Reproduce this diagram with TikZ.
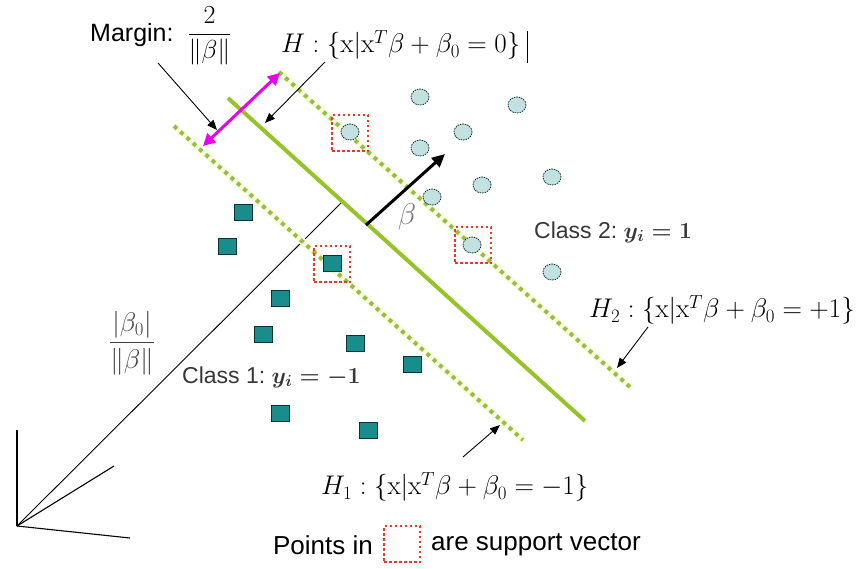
\RequirePackage{fix-cm}
\documentclass[tikz,border=0pt]{standalone}
\usepackage{amsmath}
\usepackage[no-math]{fontspec}
\setmainfont{Liberation Sans}
\usetikzlibrary{arrows.meta,shapes.geometric}
\definecolor{lg}{RGB}{150,195,40}
\definecolor{dotg}{RGB}{150,190,70}
\definecolor{paley}{RGB}{250,251,222}
\definecolor{sqf}{RGB}{25,140,140}
\definecolor{sqd}{RGB}{10,50,50}
\definecolor{cf}{RGB}{195,225,225}
\definecolor{svr}{RGB}{225,60,40}
\definecolor{mag}{RGB}{235,0,235}
\definecolor{txg}{RGB}{55,55,55}
\begin{document}
\begin{tikzpicture}[x=1pt,y=-1pt,
  margline/.style={preaction={draw=paley,line width=7pt},draw=dotg,line width=4pt,dash pattern=on 4pt off 4.5pt},
  hyper/.style={draw=lg,line width=4pt},
  sq/.style={draw=sqd,fill=sqf,line width=0.8pt,minimum width=18pt,minimum height=16pt,inner sep=0pt},
  circ/.style={ellipse,draw=sqd,dashed,dash pattern=on 1.5pt off 1pt,fill=cf,line width=0.8pt,minimum width=18pt,minimum height=16pt,inner sep=0pt},
  svbox/.style={draw=svr,line width=2.5pt,dash pattern=on 2.5pt off 2.5pt,minimum width=36pt,minimum height=36pt,inner sep=0pt},
  ptr/.style={draw=black,line width=0.9pt,-{Triangle[length=10pt,width=8pt]}},
  lab/.style={inner sep=0pt,font=\fontsize{27}{30}\selectfont},
  cls/.style={inner sep=0pt,text=txg,font=\fontsize{23}{26}\selectfont},
  axis/.style={draw=black,line width=1.1pt}]
\fill[white] (0,0) rectangle (861,568);
\useasboundingbox (0,0) rectangle (861,568);

% origin and axes
\coordinate (o) at (17,526);
\coordinate (ax1) at (17,430);
\coordinate (ax2) at (130,538);
\coordinate (ax3) at (114,466);
\coordinate (foot) at (342,202);
\draw[axis] (o) -- (ax1);
\draw[axis] (o) -- (ax2);
\draw[axis] (o) -- (ax3);
\draw[draw=black,line width=0.9pt] (o) -- (foot);

% hyperplanes
\coordinate (h2a) at (279,72); \coordinate (h2b) at (630,387);
\coordinate (ha) at (228,98); \coordinate (hb) at (585,421);
\coordinate (h1a) at (174,126); \coordinate (h1b) at (523,440);
\draw[margline] (h2a) -- (h2b);
\draw[margline] (h1a) -- (h1b);
\draw[hyper] (ha) -- (hb);

% beta arrow
\coordinate (bs) at (366,225);
\coordinate (be) at (445,154);
\draw[line width=3pt,-{Triangle[length=13pt,width=12pt]}] (bs) -- (be);
\node[lab,text=black!55,font=\fontsize{30}{32}\selectfont] (blab) at (407,217) {$\beta$};

% margin arrow
\coordinate (m1) at (203,146);
\coordinate (m2) at (280,73);
\draw[draw=mag,line width=3pt,{Triangle[length=12pt,width=12pt]}-{Triangle[length=12pt,width=12pt]}] (m1) -- (m2);

% class 1 squares
\node[sq] (s1) at (243,212) {};
\node[sq] (s2) at (227,246) {};
\node[sq] (s3) at (332,263) {};
\node[sq] (s4) at (280,298) {};
\node[sq] (s5) at (263,334) {};
\node[sq] (s6) at (355,343) {};
\node[sq] (s7) at (412,364) {};
\node[sq] (s8) at (280,413) {};
\node[sq] (s9) at (368,430) {};

% class 2 circles
\node[circ] (c1) at (420,97) {};
\node[circ] (c2) at (517,105) {};
\node[circ] (c3) at (350,132) {};
\node[circ] (c4) at (463,132) {};
\node[circ] (c5) at (420,148) {};
\node[circ] (c6) at (552,177) {};
\node[circ] (c7) at (482,185) {};
\node[circ] (c8) at (432,197) {};
\node[circ] (c9) at (472,245) {};
\node[circ] (c10) at (552,272) {};

% support vector boxes
\node[svbox] (sv1) at (350,133) {};
\node[svbox] (sv2) at (332,264) {};
\node[svbox] (sv3) at (473,245) {};

% labels
\node[lab,anchor=west,font=\fontsize{25}{28}\selectfont] (marg) at (90,36) {Margin:\ \ {\fontsize{26}{29}\selectfont$\dfrac{2}{\|\beta\|}$}};
\node[lab,anchor=west] (hlab) at (281,45) {$H:\{\mathrm{x}|\mathrm{x}^T\beta+\beta_0=0\}$};
\coordinate (bar1) at (527,31); \coordinate (bar2) at (527,63);
\draw[line width=1pt] (bar1) -- (bar2);
\node[lab,anchor=west] (h2lab) at (589,310) {$H_2:\{\mathrm{x}|\mathrm{x}^T\beta+\beta_0=+1\}$};
\node[lab,anchor=west] (h1lab) at (321,487) {$H_1:\{\mathrm{x}|\mathrm{x}^T\beta+\beta_0=-1\}$};
\node[lab,font=\fontsize{27}{30}\selectfont,text=black!75] (b0lab) at (132,343) {$\dfrac{|\beta_0|}{\|\beta\|}$};
\node[cls,anchor=west] (cl2) at (534,232) {Class 2:\ $\boldsymbol{y_i=1}$};
\node[cls,anchor=west] (cl1) at (182,377) {Class 1:\ $\boldsymbol{y_i=-1}$};

% pointers
\coordinate (pm1) at (158,63); \coordinate (pm2) at (217,130);
\coordinate (ph1) at (325,62); \coordinate (ph2) at (265,123);
\coordinate (p21) at (648,327); \coordinate (p22) at (617,368);
\coordinate (p11) at (463,457); \coordinate (p12) at (500,425);
\draw[ptr] (pm1) -- (pm2);
\draw[ptr] (ph1) -- (ph2);
\draw[ptr] (p21) -- (p22);
\draw[ptr] (p11) -- (p12);

% legend
\node[svbox] (legbox) at (402,544) {};
\node[lab,anchor=east,font=\fontsize{26}{28}\selectfont] (leg1) at (373,545) {Points in};
\node[lab,anchor=west,font=\fontsize{26}{28}\selectfont] (leg2) at (431,545) {are support vector};
\end{tikzpicture}
\end{document}
